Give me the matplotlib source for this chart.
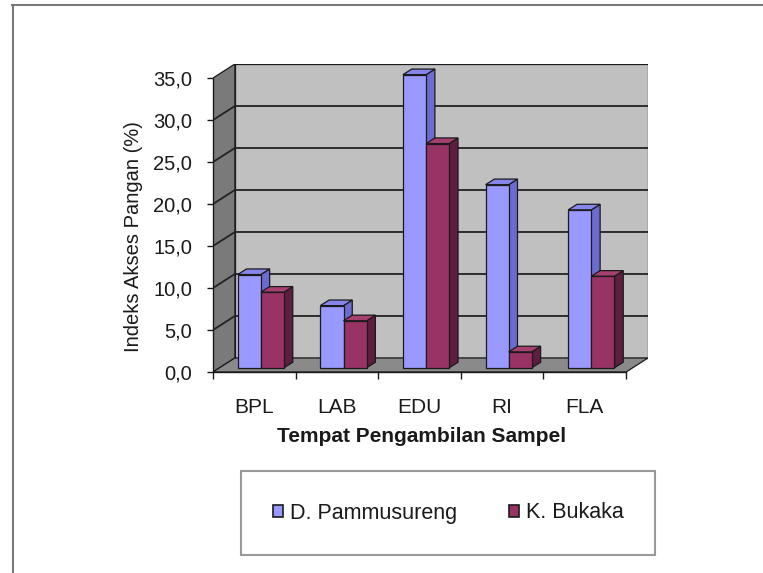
import numpy as np
import matplotlib.pyplot as plt
from matplotlib.patches import Polygon, Patch
from matplotlib.lines import Line2D

plt.rcParams['font.family'] = ['Liberation Sans', 'DejaVu Sans']

categories = ["BPL", "LAB", "EDU", "RI", "FLA"]
pammusureng = [11.1, 7.4, 34.9, 21.8, 18.8]
bukaka = [9.0, 5.6, 26.7, 1.9, 10.9]
series_names = ["D. Pammusureng", "K. Bukaka"]
yticks = np.arange(0, 35.1, 5)
ytick_labels = [f"{v:.1f}".replace(".", ",") for v in yticks]

# fake 3d depth (x in category units, y in value units)
DX, DY = 0.265, 1.67
D0, D1 = 0.3, 0.7
BAR_W = 0.28
YMAX = 35

blue = dict(face="#9999ff", side="#6b6bd0", top="#8585ea")
red = dict(face="#993366", side="#5e1e40", top="#a8406f")
EDGE = "#1a1a1a"


def poly(ax, pts, color, z=1, lw=0.9):
    ax.add_patch(Polygon(pts, closed=True, facecolor=color, edgecolor=EDGE,
                         lw=lw, zorder=z, joinstyle="miter"))


def draw_bar(ax, x0, v, c):
    ax0, ay0 = x0 + D0 * DX, D0 * DY
    bx0, by0 = x0 + D1 * DX, D1 * DY
    w = BAR_W
    poly(ax, [(ax0 + w, ay0), (bx0 + w, by0), (bx0 + w, by0 + v), (ax0 + w, ay0 + v)], c["side"], 3)
    poly(ax, [(ax0, ay0 + v), (ax0 + w, ay0 + v), (bx0 + w, by0 + v), (bx0, by0 + v)], c["top"], 3)
    poly(ax, [(ax0, ay0), (ax0 + w, ay0), (ax0 + w, ay0 + v), (ax0, ay0 + v)], c["face"], 3)


fig = plt.figure(figsize=(7.63, 5.73), dpi=100)
ax = fig.add_axes([213 / 763, 201 / 573, 435 / 763, 308 / 573])
n = len(categories)
ax.set_xlim(0, n + DX)
ax.set_ylim(0, YMAX + DY)
ax.patch.set_visible(False)

# walls and floor
poly(ax, [(DX, DY), (n + DX, DY), (n + DX, YMAX + DY), (DX, YMAX + DY)], "#c0c0c0", 0)
poly(ax, [(0, 0), (DX, DY), (DX, YMAX + DY), (0, YMAX)], "#7a7a7a", 0)
poly(ax, [(0, 0), (n, 0), (n + DX, DY), (DX, DY)], "#8a8a8a", 0)
for v in yticks[1:-1]:
    ax.plot([0, DX, n + DX], [v, v + DY, v + DY], color="#222222", lw=1.3, zorder=1)

for i in range(n):
    draw_bar(ax, i + 0.5 - BAR_W, pammusureng[i], blue)
    draw_bar(ax, i + 0.5, bukaka[i], red)

for s in ["top", "right"]:
    ax.spines[s].set_visible(False)
ax.spines["left"].set_bounds(0, YMAX)
ax.spines["bottom"].set_bounds(0, n)
for s in ["left", "bottom"]:
    ax.spines[s].set_color(EDGE)
    ax.spines[s].set_linewidth(1.0)
    ax.spines[s].set_zorder(4)

ax.set_yticks(yticks)
ax.set_yticklabels(ytick_labels)
ax.tick_params(axis="y", direction="out", length=4, width=1, pad=11,
               labelsize=14.5, colors=EDGE)
ax.set_xticks(np.arange(n + 1))
ax.set_xticklabels([])
ax.set_xticks(np.arange(n) + 0.5, minor=True)
ax.set_xticklabels(categories, minor=True)
ax.tick_params(axis="x", which="major", direction="out", length=5, width=1, colors=EDGE)
ax.tick_params(axis="x", which="minor", length=0, pad=19, labelsize=15, colors=EDGE)

ax.set_ylabel("Indeks Akses Pangan (%)", fontsize=14.5, color=EDGE)
ax.yaxis.set_label_coords(-0.16, 0.44)
ax.set_xlabel("Tempat Pengambilan Sampel", fontsize=15, fontweight="bold", color=EDGE)
ax.xaxis.set_label_coords(0.48, -0.211)
ax.xaxis.label.set_va("center")

handles = [Patch(facecolor=blue["face"], edgecolor=EDGE, lw=1.2),
           Patch(facecolor=red["face"], edgecolor=EDGE, lw=1.2)]
leg = fig.legend(handles, series_names, loc="center",
                 bbox_to_anchor=(448 / 763, 1 - 513 / 573), ncol=2,
                 fontsize=15.5, frameon=True, fancybox=False,
                 handlelength=0.5, handleheight=0.5, handletextpad=0.3,
                 columnspacing=2.4, borderpad=1.45)
leg.get_frame().set_edgecolor("#808080")
leg.get_frame().set_linewidth(1.5)
for t in leg.get_texts():
    t.set_color(EDGE)

# chart area border (top and left visible)
fig.add_artist(Line2D([12 / 763, 1], [1 - 5 / 573] * 2, color="#7a7a7a", lw=1.5))
fig.add_artist(Line2D([13 / 763] * 2, [0, 1 - 5 / 573], color="#7a7a7a", lw=1.5))

fig.savefig("out.png", dpi=100)
